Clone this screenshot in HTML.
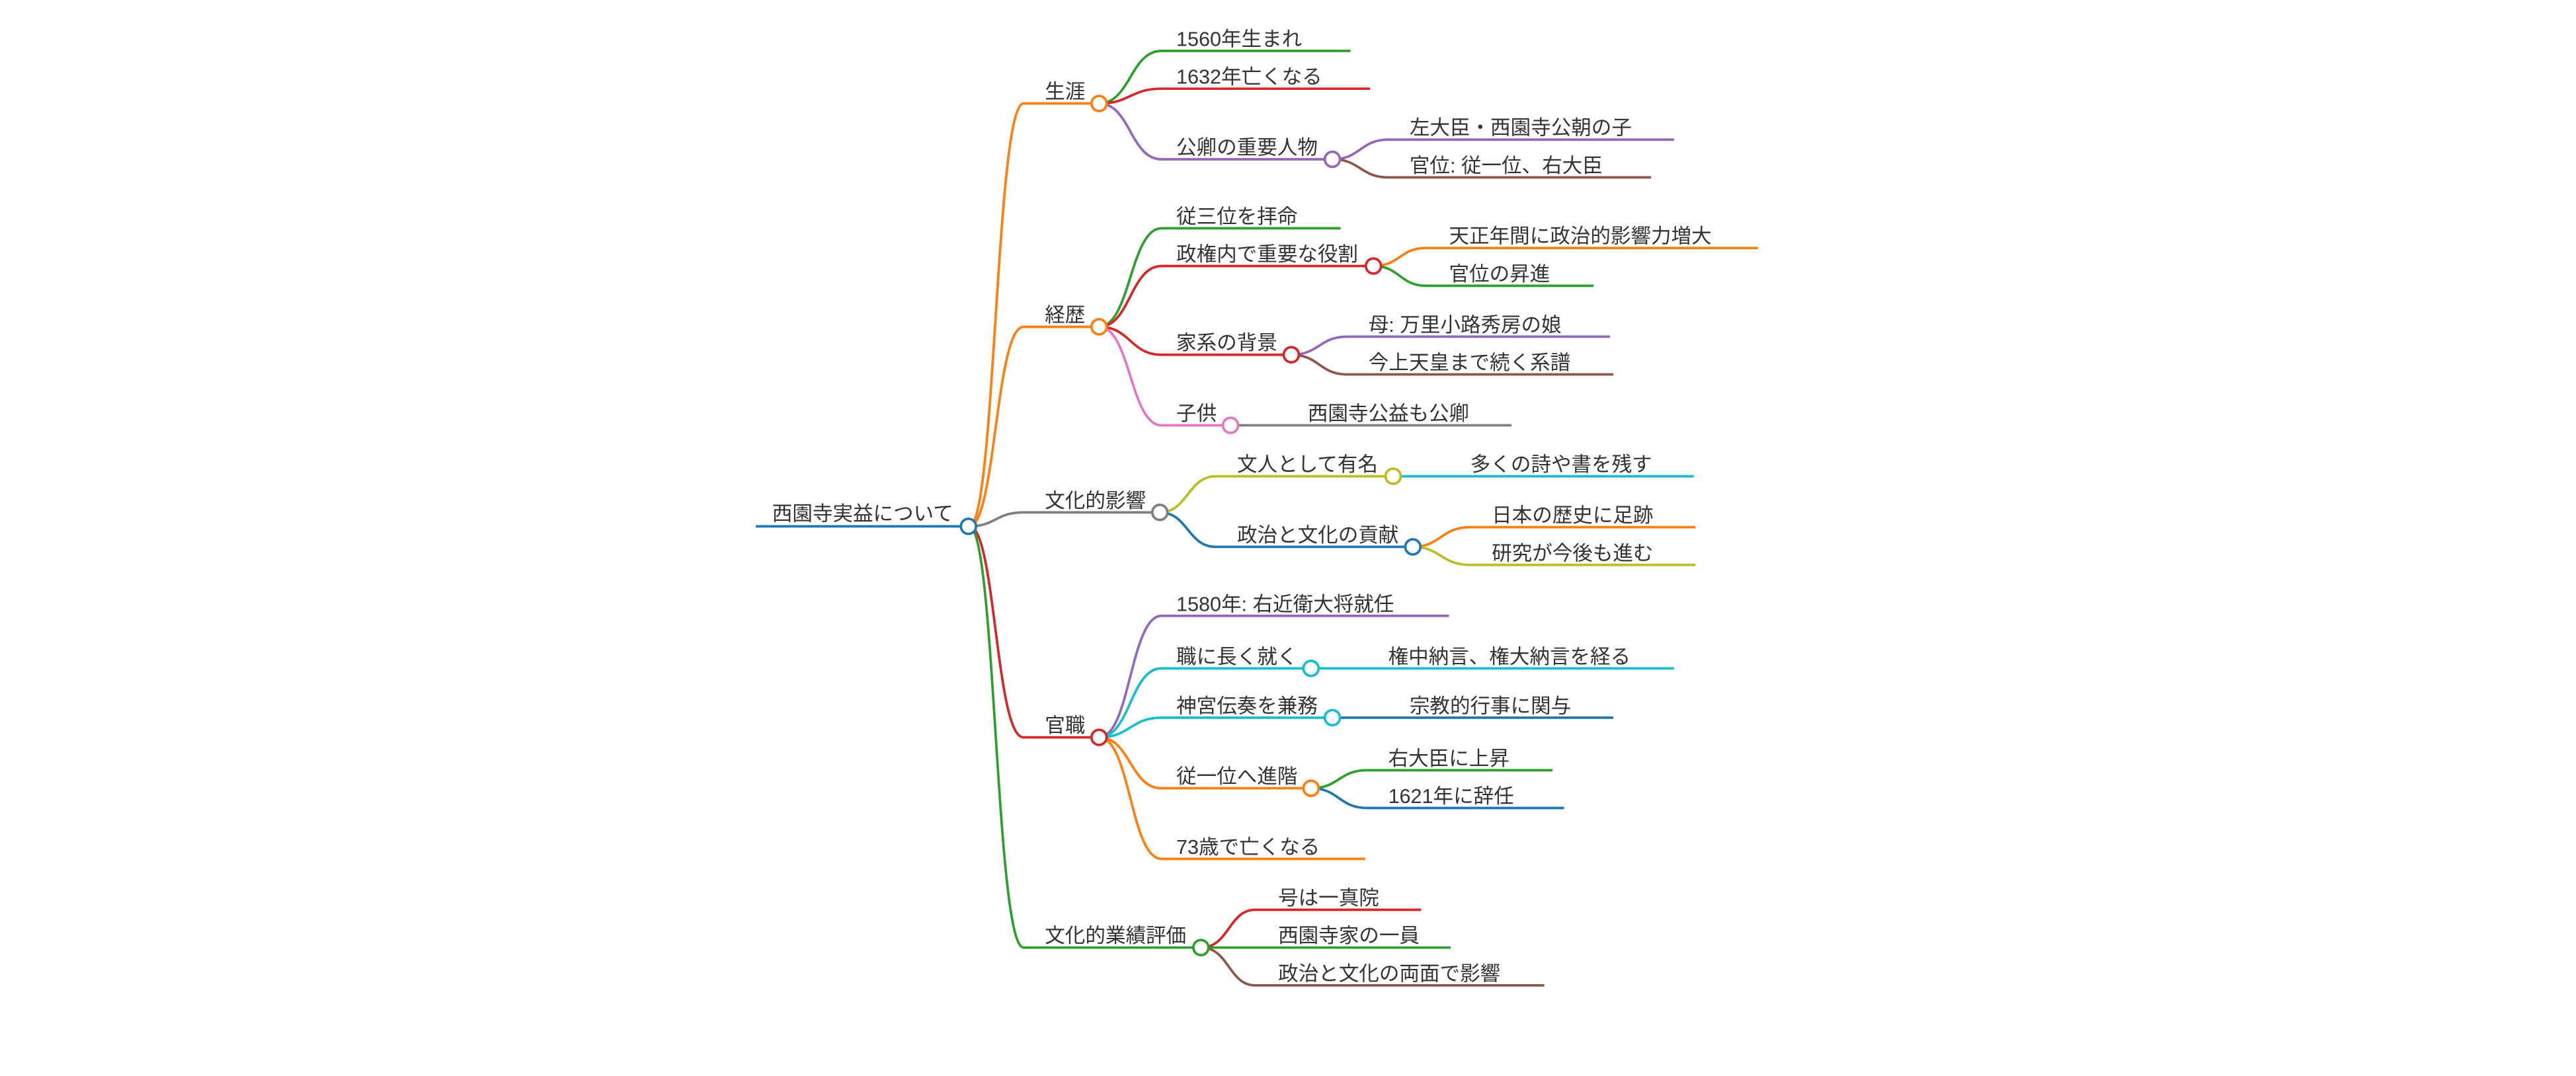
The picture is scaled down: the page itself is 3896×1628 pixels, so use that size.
<!DOCTYPE html>
<html><head><meta charset="utf-8"><style>
html,body{margin:0;padding:0;background:#fff;}
svg{display:block;}
text{font-family:"Liberation Sans","Noto Sans CJK JP",sans-serif;font-size:12.3px;fill:#333;transform:translateY(1px);}
path,line{fill:none;stroke-width:1.5;stroke-linecap:butt;}
circle{fill:#fff;stroke-width:1.5;}
</style></head><body>
<svg width="3896" height="1628" viewBox="0 0 1568 655.2" xmlns="http://www.w3.org/2000/svg">
<line x1="460" y1="320.5" x2="590" y2="320.5" stroke="#1f77b4"/>
<text x="470" y="316">西園寺実益について</text>

<path d="M590,320.5 C606,320.5 606,63 623,63 L669,63" stroke="#ff7f0e"/>
<path d="M590,320.5 C606,320.5 606,199 623,199 L669,199" stroke="#ff7f0e"/>
<path d="M590,320.5 C606,320.5 606,312 623,312 L706,312" stroke="#7f7f7f"/>
<path d="M590,320.5 C606,320.5 606,449 623,449 L669,449" stroke="#d62728"/>
<path d="M590,320.5 C606,320.5 606,577 623,577 L731,577" stroke="#2ca02c"/>
<text x="636" y="59">生涯</text>
<text x="636" y="195">経歴</text>
<text x="636" y="308">文化的影響</text>
<text x="636" y="445">官職</text>
<text x="636" y="573">文化的業績評価</text>

<path d="M669,63 C688,63 688,31 707,31 L822,31" stroke="#2ca02c"/>
<path d="M669,63 C688,63 688,54 707,54 L834,54" stroke="#d62728"/>
<path d="M669,63 C688,63 688,97 707,97 L811,97" stroke="#9467bd"/>
<text x="716" y="27">1560年生まれ</text>
<text x="716" y="50">1632年亡くなる</text>
<text x="716" y="93">公卿の重要人物</text>
<path d="M811,97 C828,97 828,85 845,85 L1019,85" stroke="#9467bd"/>
<path d="M811,97 C828,97 828,108 845,108 L1005,108" stroke="#8c564b"/>
<text x="858" y="81">左大臣・西園寺公朝の子</text>
<text x="858" y="104">官位: 従一位、右大臣</text>

<path d="M669,199 C688,199 688,139 707,139 L816,139" stroke="#2ca02c"/>
<path d="M669,199 C688,199 688,162 707,162 L836,162" stroke="#d62728"/>
<path d="M669,199 C688,199 688,216 707,216 L786,216" stroke="#d62728"/>
<path d="M669,199 C688,199 688,259 707,259 L749,259" stroke="#e377c2"/>
<text x="716" y="135">従三位を拝命</text>
<text x="716" y="158">政権内で重要な役割</text>
<text x="716" y="212">家系の背景</text>
<text x="716" y="255">子供</text>
<path d="M836,162 C852,162 852,151 868,151 L1070,151" stroke="#ff7f0e"/>
<path d="M836,162 C852,162 852,174 868,174 L970,174" stroke="#2ca02c"/>
<text x="882" y="147">天正年間に政治的影響力増大</text>
<text x="882" y="170">官位の昇進</text>
<path d="M786,216 C803,216 803,205 820,205 L980,205" stroke="#9467bd"/>
<path d="M786,216 C803,216 803,228 820,228 L982,228" stroke="#8c564b"/>
<text x="833" y="201">母: 万里小路秀房の娘</text>
<text x="833" y="224">今上天皇まで続く系譜</text>
<line x1="749" y1="259" x2="920" y2="259" stroke="#7f7f7f"/>
<text x="796" y="255">西園寺公益も公卿</text>

<path d="M706,312 C723,312 723,290 740,290 L848,290" stroke="#bcbd22"/>
<path d="M706,312 C723,312 723,333 740,333 L860,333" stroke="#1f77b4"/>
<text x="753" y="286">文人として有名</text>
<text x="753" y="329">政治と文化の貢献</text>
<line x1="848" y1="290" x2="1031" y2="290" stroke="#17becf"/>
<text x="895" y="286">多くの詩や書を残す</text>
<path d="M860,333 C877,333 877,321 895,321 L1032,321" stroke="#ff7f0e"/>
<path d="M860,333 C877,333 877,344 895,344 L1032,344" stroke="#bcbd22"/>
<text x="908" y="317">日本の歴史に足跡</text>
<text x="908" y="340">研究が今後も進む</text>

<path d="M669,449 C688,449 688,375 707,375 L882,375" stroke="#9467bd"/>
<path d="M669,449 C688,449 688,407 707,407 L798,407" stroke="#17becf"/>
<path d="M669,449 C688,449 688,437 707,437 L811,437" stroke="#17becf"/>
<path d="M669,449 C688,449 688,480 707,480 L798,480" stroke="#ff7f0e"/>
<path d="M669,449 C688,449 688,523 707,523 L831,523" stroke="#ff7f0e"/>
<text x="716" y="371">1580年: 右近衛大将就任</text>
<text x="716" y="403">職に長く就く</text>
<text x="716" y="433">神宮伝奏を兼務</text>
<text x="716" y="476">従一位へ進階</text>
<text x="716" y="519">73歳で亡くなる</text>
<line x1="798" y1="407" x2="1019" y2="407" stroke="#17becf"/>
<text x="845" y="403">権中納言、権大納言を経る</text>
<line x1="811" y1="437" x2="982" y2="437" stroke="#1f77b4"/>
<text x="858" y="433">宗教的行事に関与</text>
<path d="M798,480 C815,480 815,469 832,469 L945,469" stroke="#2ca02c"/>
<path d="M798,480 C815,480 815,492 832,492 L952,492" stroke="#1f77b4"/>
<text x="845" y="465">右大臣に上昇</text>
<text x="845" y="488">1621年に辞任</text>

<path d="M731,577 C748,577 748,554 764,554 L865,554" stroke="#d62728"/>
<path d="M731,577 L883,577" stroke="#2ca02c"/>
<path d="M731,577 C748,577 748,600 764,600 L940,600" stroke="#8c564b"/>
<text x="778" y="550">号は一真院</text>
<text x="778" y="573">西園寺家の一員</text>
<text x="778" y="596">政治と文化の両面で影響</text>

<circle cx="589.5" cy="320.5" r="4.6" stroke="#1f77b4"/>
<circle cx="669" cy="63" r="4.6" stroke="#ff7f0e"/>
<circle cx="669" cy="199" r="4.6" stroke="#ff7f0e"/>
<circle cx="706" cy="312" r="4.6" stroke="#7f7f7f"/>
<circle cx="669" cy="449" r="4.6" stroke="#d62728"/>
<circle cx="731" cy="577" r="4.6" stroke="#2ca02c"/>
<circle cx="811" cy="97" r="4.6" stroke="#9467bd"/>
<circle cx="836" cy="162" r="4.6" stroke="#d62728"/>
<circle cx="786" cy="216" r="4.6" stroke="#d62728"/>
<circle cx="749" cy="259" r="4.6" stroke="#e377c2"/>
<circle cx="848" cy="290" r="4.6" stroke="#bcbd22"/>
<circle cx="860" cy="333" r="4.6" stroke="#1f77b4"/>
<circle cx="798" cy="407" r="4.6" stroke="#17becf"/>
<circle cx="811" cy="437" r="4.6" stroke="#17becf"/>
<circle cx="798" cy="480" r="4.6" stroke="#ff7f0e"/>
</svg>
</body></html>
